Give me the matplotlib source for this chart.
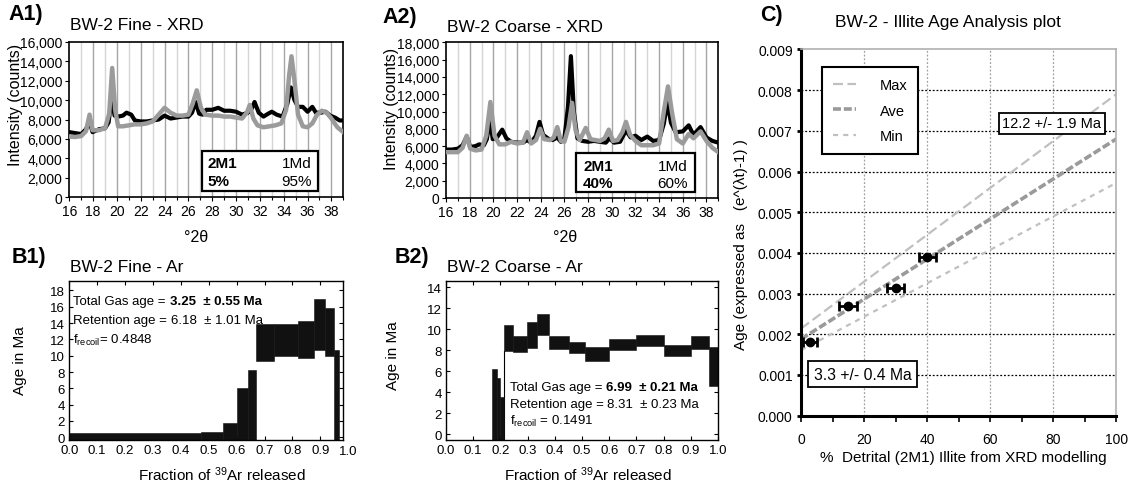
import numpy as np
import matplotlib
matplotlib.use('Agg')
import matplotlib.pyplot as plt
from matplotlib.patches import Rectangle
from matplotlib.ticker import FuncFormatter, MultipleLocator
import matplotlib.transforms as mtransforms

plt.rcParams['font.family'] = ['Liberation Sans', 'DejaVu Sans']
plt.rcParams['mathtext.fontset'] = 'custom'
plt.rcParams['mathtext.rm'] = 'Liberation Sans'
plt.rcParams['mathtext.it'] = 'Liberation Sans:italic'
plt.rcParams['mathtext.bf'] = 'Liberation Sans:bold'

# ---------------- data ----------------
# A1: BW-2 Fine XRD
a1_black_theta = [16.0, 16.5, 17.0, 17.4, 17.7, 17.95, 18.5, 19.0, 19.3, 19.55, 19.8, 20.1, 20.5, 20.8,
                  21.2, 21.5, 22.0, 22.5, 23.0, 23.5, 24.0, 24.5, 25.0, 25.5, 26.0, 26.3, 26.6, 26.9,
                  27.2, 27.5, 28.0, 28.5, 29.0, 29.5, 30.0, 30.5, 31.0, 31.3, 31.55, 31.9, 32.3, 32.7,
                  33.0, 33.4, 33.9, 34.3, 34.6, 34.9, 35.2, 35.6, 36.0, 36.4, 36.7, 37.1, 37.5, 37.9,
                  38.3, 38.7, 39.0]
a1_black_int = [6700, 6600, 6500, 7000, 7800, 6700, 7000, 7100, 7700, 10300, 8400, 8300, 8400, 8700,
                8500, 7900, 7800, 7800, 7900, 8000, 8400, 8100, 8200, 8300, 8300, 8700, 9800, 8600,
                8500, 9000, 9000, 9200, 8900, 8900, 8800, 8500, 8700, 9100, 9800, 8700, 8300, 8600,
                8800, 8500, 8300, 9600, 11300, 10000, 9300, 9300, 8800, 9300, 8700, 8700, 8800, 8400,
                8200, 7900, 7900]
a1_gray_theta = [16.0, 16.5, 17.0, 17.4, 17.7, 17.95, 18.5, 19.0, 19.35, 19.6, 19.85, 20.1, 20.5, 21.0,
                 21.5, 22.0, 22.5, 23.0, 23.5, 24.0, 24.5, 25.0, 25.5, 26.0, 26.35, 26.7, 27.05, 27.4,
                 28.0, 28.5, 29.0, 29.5, 30.0, 30.5, 30.9, 31.15, 31.45, 31.8, 32.3, 32.8, 33.3, 33.8,
                 34.2, 34.45, 34.65, 34.9, 35.2, 35.6, 36.0, 36.4, 36.8, 37.2, 37.6, 38.0, 38.5, 39.0]
a1_gray_int = [6250, 6200, 6300, 6800, 8500, 6900, 6900, 7100, 8600, 13300, 9000, 7300, 7300, 7400,
               7500, 7500, 7600, 7800, 8500, 9200, 8700, 8400, 8400, 8500, 9600, 11000, 9200, 8500,
               8400, 8400, 8300, 8300, 8200, 8100, 8700, 9500, 8100, 7400, 7200, 7300, 7400, 7600,
               9000, 12500, 14500, 12000, 8500, 7300, 7200, 7600, 8500, 8900, 8700, 8100, 7200, 6700]

# A2: BW-2 Coarse XRD
a2_black_theta = [16.0, 16.5, 17.0, 17.4, 17.75, 18.05, 18.5, 18.8, 19.2, 19.45, 19.7, 19.95, 20.3, 20.75,
                  21.1, 21.5, 22.0, 22.5, 22.85, 23.2, 23.6, 23.9, 24.2, 24.7, 25.0, 25.4, 25.7, 26.0,
                  26.3, 26.55, 26.8, 27.1, 27.5, 28.0, 28.5, 29.0, 29.5, 29.8, 30.2, 30.7, 31.2, 31.6,
                  32.0, 32.5, 33.0, 33.5, 34.0, 34.4, 34.7, 35.0, 35.4, 36.0, 36.5, 36.9, 37.5, 38.0,
                  38.5, 39.0]
a2_black_int = [5600, 5600, 5700, 6100, 7100, 5900, 6000, 6200, 6100, 6800, 9100, 6800, 7000, 7900,
                6900, 6500, 6400, 6400, 6700, 6400, 7200, 8800, 7300, 6800, 6700, 7000, 6500, 6900,
                10500, 16400, 10000, 6900, 6600, 6500, 6600, 6500, 6400, 6900, 6400, 6500, 7800, 7000,
                7200, 6700, 7100, 6600, 6700, 8600, 11100, 8700, 7600, 7700, 8400, 7300, 8200, 7000,
                6600, 6400]
a2_gray_theta = [16.0, 16.5, 17.0, 17.4, 17.75, 18.05, 18.5, 19.0, 19.4, 19.75, 20.1, 20.5, 21.0, 21.5,
                 22.0, 22.5, 22.85, 23.2, 23.6, 23.95, 24.3, 24.8, 25.1, 25.4, 25.7, 26.0, 26.35, 26.65,
                 26.95, 27.3, 27.8, 28.2, 28.6, 29.0, 29.4, 29.75, 30.1, 30.5, 30.9, 31.2, 31.55, 32.0,
                 32.5, 33.0, 33.5, 34.0, 34.4, 34.75, 35.1, 35.5, 36.0, 36.5, 36.9, 37.5, 38.0, 38.5,
                 39.0]
a2_gray_int = [5300, 5300, 5300, 5800, 7200, 5700, 5500, 5600, 7200, 11100, 7200, 6200, 6200, 6500,
               6300, 6400, 7600, 6300, 6700, 8000, 6800, 6700, 7000, 8200, 6600, 6500, 8200, 11000,
               7800, 6700, 8100, 6800, 6700, 6600, 6900, 7900, 6600, 6700, 7600, 8800, 7300, 6600,
               6100, 6100, 6100, 6300, 10000, 12900, 9800, 6800, 6300, 7400, 6900, 7700, 6600, 5800,
               5300]

a1_comp = ['2M1', '1Md', '5%', '95%']
a2_comp = ['2M1', '1Md', '40%', '60%']

# B1: BW-2 Fine Ar age spectrum (step edges, low / high of age boxes, Ma)
b1_edges = [0.0, 0.471, 0.552, 0.601, 0.639, 0.669, 0.733, 0.819, 0.877, 0.918, 0.949, 0.967]
b1_low = [-0.5, -0.5, -0.5, -0.5, -0.5, 9.34, 9.95, 9.7, 10.76, 9.95, -0.5]
b1_high = [0.49, 0.61, 1.76, 6.06, 8.27, 13.84, 13.84, 14.25, 16.9, 15.85, 10.72]

# B2: BW-2 Coarse Ar age spectrum
b2_edges = [0.170, 0.189, 0.199, 0.213, 0.245, 0.297, 0.336, 0.380, 0.451, 0.512, 0.600, 0.700,
            0.800, 0.900, 0.968, 1.0]
b2_low = [-1.0, -1.0, -1.0, 7.95, 7.8, 8.18, 9.45, 8.11, 7.73, 7.0, 8.05, 8.43, 7.47, 8.11, 4.55]
b2_high = [6.2, 5.3, 3.5, 10.4, 9.4, 10.66, 11.45, 9.32, 8.8, 8.27, 9.07, 9.45, 8.5, 9.38, 8.27]

# C: Illite age analysis
pct_2m1 = [2.9, 15, 30, 40]
pct_err = [2.3, 2.8, 2.8, 2.7]
age_exp = [0.00181, 0.0027, 0.00314, 0.0039]
fit_x = [0, 100]
fit_max = [0.00214, 0.0079]
fit_ave = [0.00188, 0.0068]
fit_min = [0.00161, 0.00572]

# ---------------- figure ----------------
W, H = 1131, 485
fig = plt.figure(figsize=(W / 100, H / 100), dpi=100)


def fx(x):
    return x / W


def fy(y):
    return 1 - y / H


def axes_px(l, t, r, b):
    return fig.add_axes([l / W, 1 - b / H, (r - l) / W, (b - t) / H])


def xrd_panel(ax, tb, ib, tg, ig, ymax, comp, box, txt):
    ax.set_xlim(16, 39)
    ax.set_ylim(0, ymax)
    for t in range(17, 39):
        ax.axvline(t, color='#a5a5a5' if t % 2 == 0 else '#d5d5d5', lw=1.0, zorder=0)
    ax.plot(tb, ib, color='black', lw=3.0, zorder=2, solid_joinstyle='round')
    ax.plot(tg, ig, color='#9b9b9b', lw=3.2, zorder=3, solid_joinstyle='round')
    ax.set_xticks(range(16, 39, 2))
    ax.xaxis.set_minor_locator(MultipleLocator(1))
    ax.set_yticks(range(0, ymax + 1, 2000))
    ax.yaxis.set_major_formatter(FuncFormatter(lambda v, p: f'{int(v):,}'))
    ax.tick_params(which='both', direction='out', length=3, width=0.8, labelsize=10, pad=2)
    ax.tick_params(which='minor', length=2)
    for s in ax.spines.values():
        s.set_linewidth(1.2)
    x0, x1, y0, y1 = box
    ax.add_patch(Rectangle((x0, y0), x1 - x0, y1 - y0, transform=ax.transAxes,
                           fc='white', ec='black', lw=1.6, zorder=5))
    lx, rx, r1, r2 = txt
    ax.text(lx, r1, comp[0], transform=ax.transAxes, fontsize=11, fontweight='bold',
            ha='left', va='center', zorder=6)
    ax.text(rx, r1, comp[1], transform=ax.transAxes, fontsize=11, ha='right', va='center', zorder=6)
    ax.text(lx, r2, comp[2], transform=ax.transAxes, fontsize=11, fontweight='bold',
            ha='left', va='center', zorder=6)
    ax.text(rx, r2, comp[3], transform=ax.transAxes, fontsize=11, ha='right', va='center', zorder=6)


axA1 = axes_px(69.3, 42.7, 343.3, 198.3)
xrd_panel(axA1, a1_black_theta, a1_black_int, a1_gray_theta, a1_gray_int, 16000, a1_comp,
          (0.483, 0.909, 0.042, 0.30), (0.506, 0.886, 0.222, 0.107))
axA2 = axes_px(446, 43.3, 718.3, 199)
xrd_panel(axA2, a2_black_theta, a2_black_int, a2_gray_theta, a2_gray_int, 18000, a2_comp,
          (0.477, 0.914, 0.040, 0.289), (0.504, 0.889, 0.205, 0.096))


def ar_panel(ax, edges, low, high, ylim, ymax_tick, xmax):
    edges = np.array(edges)
    low = np.array(low)
    high = np.array(high)
    ax.bar(edges[:-1], high - low, width=np.diff(edges), bottom=low, align='edge',
           color='#111111', ec='#111111', lw=0.4, zorder=2)
    ax.set_xlim(0, xmax)
    ax.set_ylim(*ylim)
    ax.set_xticks(np.round(np.arange(0, xmax + 1e-9, 0.1), 1))
    ax.xaxis.set_major_formatter(FuncFormatter(lambda v, p: f'{v:.1f}'))
    ax.set_yticks(range(0, ymax_tick + 1, 2))
    ax.tick_params(direction='in', top=True, right=True, length=3, width=0.8,
                   labelsize=9.5, pad=3)
    for s in ax.spines.values():
        s.set_linewidth(1.0)


axB1 = axes_px(69.3, 281.7, 342.7, 441)
ar_panel(axB1, b1_edges, b1_low, b1_high, (-0.33, 19.2), 18, 0.98)
trB1 = mtransforms.blended_transform_factory(axB1.transData, axB1.transAxes)
axB1.text(1.0, -0.069, '1.0', transform=trB1, ha='center', va='center', fontsize=9.5, clip_on=False)

axB2 = axes_px(446, 282, 718, 441)
ar_panel(axB2, b2_edges, b2_low, b2_high, (-0.57, 14.6), 14, 1.0)
# thin riser connecting the spectrum to the baseline
axB2.plot([b2_edges[3], b2_edges[3]], [-0.57, b2_low[3]], color='black', lw=0.8, zorder=1)


def age_text(ax, x, ys, plain, bold, fline, fs=9.5):
    t1 = ax.text(x, ys[0], plain[0], transform=ax.transAxes, fontsize=fs, ha='left', va='center', zorder=5)
    ax.annotate(bold[0], xy=(1, 0.5), xycoords=t1, fontsize=fs, fontweight='bold',
                ha='left', va='center', zorder=5)
    t2 = ax.text(x, ys[1], plain[1], transform=ax.transAxes, fontsize=fs, ha='left', va='center', zorder=5)
    ax.annotate(bold[1], xy=(1, 0.5), xycoords=t2, fontsize=fs, ha='left', va='center', zorder=5)
    ax.text(x, ys[2], fline, transform=ax.transAxes, fontsize=fs, ha='left', va='center', zorder=5)


age_text(axB1, 0.015, (0.874, 0.753, 0.634),
         ('Total Gas age = ', 'Retention age = '), ('3.25  ± 0.55 Ma', '6.18  ± 1.01 Ma'),
         r'f$_{\mathrm{recoil}}$= 0.4848')
age_text(axB2, 0.235, (0.331, 0.226, 0.121),
         ('Total Gas age = ', 'Retention age = '), ('6.99  ± 0.21 Ma', '8.31  ± 0.23 Ma'),
         r'f$_{\mathrm{recoil}}$ = 0.1491')

# ---------------- C panel ----------------
axC = axes_px(801, 50.4, 1116.3, 416.7)
axC.set_xlim(0, 100)
axC.set_ylim(0, 0.009)
yt = np.round(np.arange(0, 0.00901, 0.001), 3)
axC.set_yticks(yt)
axC.yaxis.set_major_formatter(FuncFormatter(lambda v, p: f'{v:.3f}'))
axC.set_xticks(range(0, 101, 20))
axC.xaxis.set_minor_locator(MultipleLocator(10))
for yv in yt[1:-1]:
    axC.axhline(yv, color='black', lw=0.9, ls=(0, (1.5, 1.5)), zorder=1)
for xv in [20, 40, 60, 80]:
    axC.axvline(xv, color='#a0a0a0', lw=0.9, ls=(0, (1.5, 1.5)), zorder=1)
axC.plot(fit_x, fit_max, color='#c0c0c0', lw=1.6, ls=(0, (4.5, 2.0)), label='Max', zorder=2)
axC.plot(fit_x, fit_ave, color='#9a9a9a', lw=2.6, ls=(0, (2.2, 0.8)), label='Ave', zorder=2)
axC.plot(fit_x, fit_min, color='#c0c0c0', lw=1.6, ls=(0, (2.3, 2.3)), label='Min', zorder=2)
axC.errorbar(pct_2m1, age_exp, xerr=pct_err, fmt='o', color='black', ms=6, capsize=3.5,
             elinewidth=2, capthick=2, zorder=5)
for side in ['left', 'bottom']:
    axC.spines[side].set_linewidth(2.2)
    axC.spines[side].set_color('black')
for side in ['top', 'right']:
    axC.spines[side].set_linewidth(1.2)
    axC.spines[side].set_color('#b0b0b0')
axC.tick_params(axis='y', direction='out', length=3, width=2, labelsize=10, pad=3)
axC.tick_params(axis='x', which='both', direction='out', length=4, width=1.2, labelsize=10, pad=8)
leg = axC.legend(loc='upper left', bbox_to_anchor=(0.067, 0.952), frameon=True, fancybox=False,
                 edgecolor='black', fontsize=10.5, handlelength=1.6, handletextpad=1.6,
                 labelspacing=0.8, borderpad=0.75, borderaxespad=0)
leg.get_frame().set_linewidth(1.5)
leg.get_frame().set_alpha(1)
axC.text(79.6, 0.00718, '12.2 +/- 1.9 Ma', ha='center', va='center', fontsize=10.5, zorder=6,
         bbox=dict(boxstyle='square,pad=0.22', fc='white', ec='black', lw=1.3))
axC.text(19.5, 0.00102, '3.3 +/- 0.4 Ma', ha='center', va='center', fontsize=11.3, zorder=6,
         bbox=dict(boxstyle='square,pad=0.35', fc='white', ec='black', lw=1.3))

# ---------------- labels ----------------
fig.text(fx(8), fy(14.5), 'A1)', fontsize=15.5, fontweight='bold', ha='left', va='center')
fig.text(fx(70), fy(25.5), 'BW-2 Fine - XRD', fontsize=12.5, ha='left', va='center')
fig.text(fx(382), fy(17.5), 'A2)', fontsize=15.5, fontweight='bold', ha='left', va='center')
fig.text(fx(447), fy(28), 'BW-2 Coarse - XRD', fontsize=12.5, ha='left', va='center')
fig.text(fx(16), fy(105), 'Intensity (counts)', fontsize=11.5, rotation=90, ha='center', va='center')
fig.text(fx(391.5), fy(109), 'Intensity (counts)', fontsize=11.5, rotation=90, ha='center', va='center')
fig.text(fx(196), fy(238), '°2θ', fontsize=11.5, ha='center', va='center')
fig.text(fx(565), fy(238), '°2θ', fontsize=11.5, ha='center', va='center')

fig.text(fx(12), fy(257.5), 'B1)', fontsize=15.5, fontweight='bold', ha='left', va='center')
fig.text(fx(70), fy(268), 'BW-2 Fine - Ar', fontsize=12.5, ha='left', va='center')
fig.text(fx(395), fy(257.5), 'B2)', fontsize=15.5, fontweight='bold', ha='left', va='center')
fig.text(fx(447), fy(268), 'BW-2 Coarse - Ar', fontsize=12.5, ha='left', va='center')
fig.text(fx(20), fy(361), 'Age in Ma', fontsize=11, rotation=90, ha='center', va='center')
fig.text(fx(392.5), fy(356), 'Age in Ma', fontsize=11, rotation=90, ha='center', va='center')
fig.text(fx(221.7), fy(481), r'Fraction of $^{39}$Ar released', fontsize=11, ha='center', va='baseline')
fig.text(fx(588), fy(481), r'Fraction of $^{39}$Ar released', fontsize=11, ha='center', va='baseline')

fig.text(fx(760), fy(15), 'C)', fontsize=15.5, fontweight='bold', ha='left', va='center')
fig.text(fx(948), fy(22), 'BW-2 - Illite Age Analysis plot', fontsize=12.5, ha='center', va='center')
fig.text(fx(741), fy(245), 'Age (expressed as   (e^(λt)-1) )', fontsize=11, rotation=90,
         ha='center', va='center')
fig.text(fx(963), fy(458), '%  Detrital (2M1) Illite from XRD modelling', fontsize=11,
         ha='center', va='center')

fig.savefig('out.png', dpi=100)
